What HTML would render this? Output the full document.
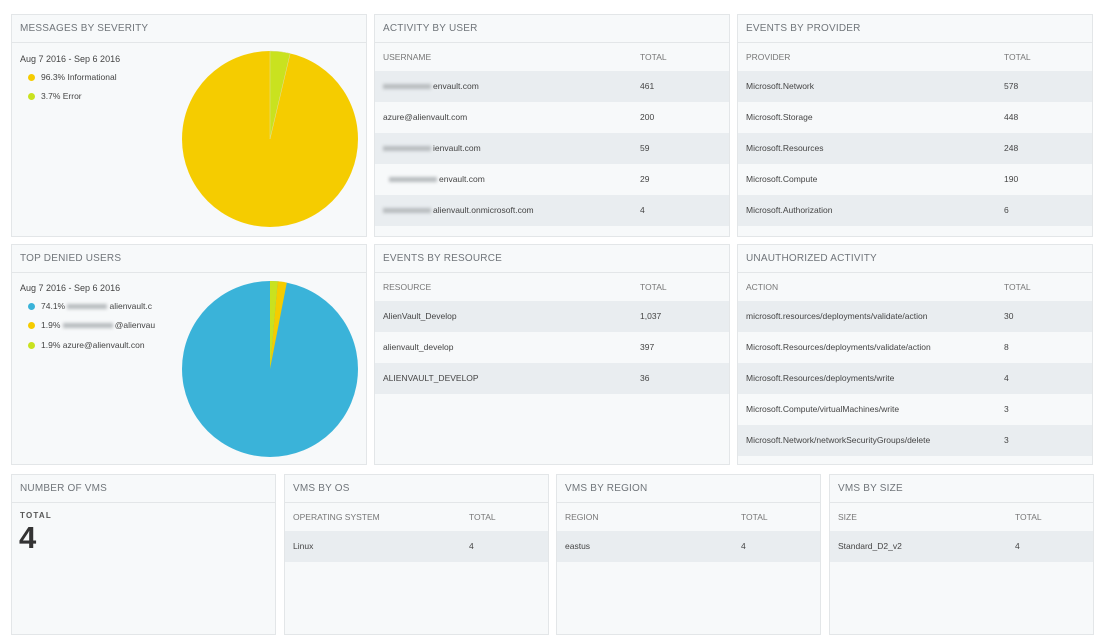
<!DOCTYPE html>
<html><head><meta charset="utf-8"><style>
body{margin:0;width:1101px;height:642px;background:#fff;font-family:"Liberation Sans",sans-serif;position:relative;overflow:hidden}
.p{position:absolute;background:#f7f9fa;border:1px solid #e3e6e8;box-sizing:border-box;overflow:hidden}
.h{height:27px;border-bottom:1px solid #e3e6e8;font-size:10px;color:#70757a;line-height:27px;padding-left:8px;letter-spacing:.2px}
.r{position:relative;height:31px;line-height:31px;font-size:8.5px;color:#444;padding-left:8px}
.r.th{height:28px;line-height:28px;color:#777;font-size:8.5px}
.r.s{background:#e9edf0}
.r .t{position:absolute;top:0}
.b{display:inline-block;width:48px;height:5px;background:#b8bcbf;filter:blur(1.5px);vertical-align:middle;margin-right:2px}
.lg{position:absolute;font-size:8.5px;color:#444}
.dot{display:inline-block;width:7px;height:7px;border-radius:50%;margin-right:6px;vertical-align:-1px}
</style></head><body>

<div class="p" style="left:11px;top:14px;width:356px;height:223px">
<div class="h">MESSAGES BY SEVERITY</div>
<div class="lg" style="left:8px;top:39px;font-size:9px">Aug 7 2016 - Sep 6 2016</div>
<div class="lg" style="left:16px;top:57px"><span class="dot" style="background:#f5cc00"></span>96.3% Informational</div>
<div class="lg" style="left:16px;top:76px"><span class="dot" style="background:#c9e21f"></span>3.7% Error</div>
</div>
<svg style="position:absolute;left:0;top:0" width="1101" height="642">
<circle cx="270" cy="139" r="88" fill="#f5cc00"/>
<path d="M270 139 L270 51 A88 88 0 0 1 290.2 53.4 Z" fill="#c9e21f" stroke="#e0e0a0" stroke-width=".5"/>
</svg>

<div class="p" style="left:11px;top:244px;width:356px;height:221px">
<div class="h">TOP DENIED USERS</div>
<div class="lg" style="left:8px;top:38px;font-size:9px">Aug 7 2016 - Sep 6 2016</div>
<div class="lg" style="left:16px;top:56px"><span class="dot" style="background:#3ab3d9"></span>74.1% <span class="b" style="width:40px"></span>alienvault.c</div>
<div class="lg" style="left:16px;top:75px"><span class="dot" style="background:#f5cc00"></span>1.9% <span class="b" style="width:50px"></span>@alienvau</div>
<div class="lg" style="left:16px;top:95px"><span class="dot" style="background:#c9e21f"></span>1.9% azure@alienvault.con</div>
</div>
<svg style="position:absolute;left:0;top:0" width="1101" height="642">
<circle cx="270" cy="369" r="88" fill="#3ab3d9"/>
<path d="M270 369 L270 281 A88 88 0 0 1 277.7 281.3 Z" fill="#c9e21f"/>
<path d="M270 369 L277.7 281.3 A88 88 0 0 1 286.8 282.6 Z" fill="#f5cc00"/>
</svg>

<div class="p" style="left:374px;top:14px;width:356px;height:223px">
<div class="h">ACTIVITY BY USER</div>
<div class="r th">USERNAME<span class="t" style="left:265px">TOTAL</span></div>
<div class="r s"><span class="b"></span>envault.com<span class="t" style="left:265px">461</span></div>
<div class="r">azure@alienvault.com<span class="t" style="left:265px">200</span></div>
<div class="r s"><span class="b"></span>ienvault.com<span class="t" style="left:265px">59</span></div>
<div class="r"><span class="b" style="margin-left:6px"></span>envault.com<span class="t" style="left:265px">29</span></div>
<div class="r s"><span class="b"></span>alienvault.onmicrosoft.com<span class="t" style="left:265px">4</span></div>
</div>

<div class="p" style="left:737px;top:14px;width:356px;height:223px">
<div class="h">EVENTS BY PROVIDER</div>
<div class="r th">PROVIDER<span class="t" style="left:266px">TOTAL</span></div>
<div class="r s">Microsoft.Network<span class="t" style="left:266px">578</span></div>
<div class="r">Microsoft.Storage<span class="t" style="left:266px">448</span></div>
<div class="r s">Microsoft.Resources<span class="t" style="left:266px">248</span></div>
<div class="r">Microsoft.Compute<span class="t" style="left:266px">190</span></div>
<div class="r s">Microsoft.Authorization<span class="t" style="left:266px">6</span></div>
</div>

<div class="p" style="left:374px;top:244px;width:356px;height:221px">
<div class="h">EVENTS BY RESOURCE</div>
<div class="r th">RESOURCE<span class="t" style="left:265px">TOTAL</span></div>
<div class="r s">AlienVault_Develop<span class="t" style="left:265px">1,037</span></div>
<div class="r">alienvault_develop<span class="t" style="left:265px">397</span></div>
<div class="r s">ALIENVAULT_DEVELOP<span class="t" style="left:265px">36</span></div>
</div>

<div class="p" style="left:737px;top:244px;width:356px;height:221px">
<div class="h">UNAUTHORIZED ACTIVITY</div>
<div class="r th">ACTION<span class="t" style="left:266px">TOTAL</span></div>
<div class="r s">microsoft.resources/deployments/validate/action<span class="t" style="left:266px">30</span></div>
<div class="r">Microsoft.Resources/deployments/validate/action<span class="t" style="left:266px">8</span></div>
<div class="r s">Microsoft.Resources/deployments/write<span class="t" style="left:266px">4</span></div>
<div class="r">Microsoft.Compute/virtualMachines/write<span class="t" style="left:266px">3</span></div>
<div class="r s">Microsoft.Network/networkSecurityGroups/delete<span class="t" style="left:266px">3</span></div>
</div>

<div class="p" style="left:11px;top:474px;width:265px;height:161px">
<div class="h">NUMBER OF VMS</div>
<div style="position:absolute;left:8px;top:36px;font-size:8px;font-weight:bold;letter-spacing:1.2px;color:#555">TOTAL</div>
<div style="position:absolute;left:7px;top:45px;font-size:31px;font-weight:bold;color:#333">4</div>
</div>

<div class="p" style="left:284px;top:474px;width:265px;height:161px">
<div class="h">VMS BY OS</div>
<div class="r th">OPERATING SYSTEM<span class="t" style="left:184px">TOTAL</span></div>
<div class="r s">Linux<span class="t" style="left:184px">4</span></div>
</div>

<div class="p" style="left:556px;top:474px;width:265px;height:161px">
<div class="h">VMS BY REGION</div>
<div class="r th">REGION<span class="t" style="left:184px">TOTAL</span></div>
<div class="r s">eastus<span class="t" style="left:184px">4</span></div>
</div>

<div class="p" style="left:829px;top:474px;width:265px;height:161px">
<div class="h">VMS BY SIZE</div>
<div class="r th">SIZE<span class="t" style="left:185px">TOTAL</span></div>
<div class="r s">Standard_D2_v2<span class="t" style="left:185px">4</span></div>
</div>
</body></html>
